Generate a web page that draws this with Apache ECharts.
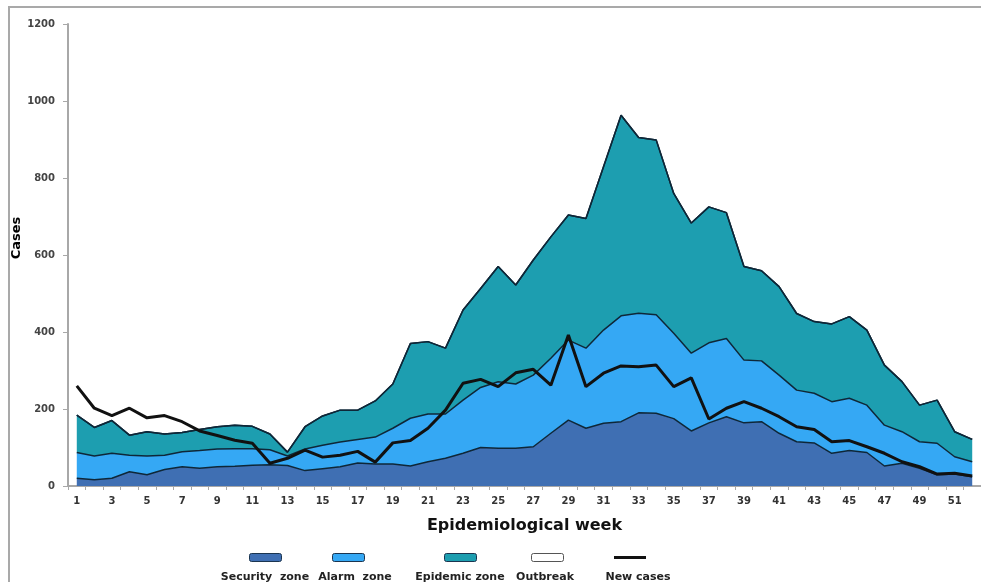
<!DOCTYPE html>
<html>
<head>
<meta charset="utf-8">
<script src="https://cdn.jsdelivr.net/npm/echarts@6/dist/echarts.min.js"></script>
<style>
    html, body { margin: 0; padding: 0; background: #fff; }
    #chart { width: 981px; height: 582px; }
</style>
</head>
<body>
<div id="chart"></div>
<script>
// weeks 1 -> 52
const weeks = [
    1, 2, 3, 4, 5, 6, 7, 8, 9, 10, 11, 12, 13, 14, 15, 16, 17, 18, 19, 20, 21, 22, 23, 24, 25, 26,
    27, 28, 29, 30, 31, 32, 33, 34, 35, 36, 37, 38, 39, 40, 41, 42, 43, 44, 45, 46, 47, 48, 49, 50, 51, 52
]
const securityZone = [
    20, 16, 20, 37, 29, 43, 50, 46, 50, 51, 54, 55, 53, 40, 45, 50, 60, 57, 57, 52, 63, 72, 85, 100, 98, 98,
    102, 137, 171, 150, 163, 167, 190, 189, 175, 143, 164, 180, 164, 167, 137, 115, 112, 85, 92, 87, 52, 59, 46, 29, 31, 24
]
const alarmZone = [
    67, 62, 65, 43, 49, 37, 39, 46, 46, 46, 43, 39, 25, 56, 61, 64, 61, 70, 93, 124, 124, 115, 138, 156, 173, 167,
    186, 195, 208, 208, 242, 275, 259, 256, 222, 202, 208, 203, 163, 158, 151, 134, 129, 134, 136, 123, 106, 82, 69, 82, 45, 39
]
const epidemicZone = [
    97, 74, 85, 52, 63, 55, 50, 55, 58, 61, 58, 41, 10, 58, 76, 83, 76, 94, 115, 194, 188, 171, 234, 257, 299, 257,
    299, 315, 325, 337, 424, 521, 456, 454, 363, 338, 353, 327, 243, 234, 230, 199, 186, 202, 212, 195, 156, 130, 95, 112, 65, 58
]
const outbreak = [
    0, 0, 0, 0, 0, 0, 0, 0, 0, 0, 0, 0, 0, 0, 0, 0, 0, 0, 0, 0, 0, 0, 0, 0, 0, 0,
    0, 0, 0, 0, 0, 0, 0, 0, 0, 0, 0, 0, 0, 0, 0, 0, 0, 0, 0, 0, 0, 0, 0, 0, 0, 0
]
const newCases = [
    260, 202, 183, 202, 177, 183, 167, 143, 131, 119, 111, 59, 72, 93, 75, 80, 90, 62, 112, 118, 150, 197, 267, 277, 258, 294,
    303, 262, 392, 258, 293, 312, 310, 314, 258, 281, 174, 202, 219, 202, 180, 154, 147, 115, 118, 102, 85, 63, 50, 31, 33, 26
]

const seriesNames = ['Security zone', 'Alarm zone', 'Epidemic zone', 'Outbreak', 'New cases']
const legendLabels = ['Security  zone', 'Alarm  zone', 'Epidemic zone', 'Outbreak', 'New cases']
const seriesColors = ['#3f6fb3', '#35a8f4', '#1d9eb0', '#ffffff', '#111111']

const edge = '#0e2738'
const font = 'DejaVu Sans'

const areaSeries = (name, data, color) => ({
    name,
    type: 'line',
    stack: 'zones',
    data,
    symbol: 'none',
    itemStyle: { color },
    lineStyle: { color: edge, width: 1.5 },
    areaStyle: { color, opacity: 1 },
})

// one legend per item so the icon can sit above its label
const legendX = [249, 332, 444, 531, 614]
const legends = seriesNames.map((name, i) => ({
    data: [{
        name,
        icon: i === 4 ? 'rect' : 'roundRect',
        itemStyle: i === 4
            ? { color: seriesColors[i], borderWidth: 0 }
            : { color: seriesColors[i], borderColor: i === 3 ? '#555' : '#1b3550', borderWidth: 1 },
    }],
    left: legendX[i],
    top: i === 4 ? 556 : 553,
    padding: 0,
    itemWidth: 32,
    itemHeight: i === 4 ? 3 : 8,
    formatter: () => '',
    selectedMode: false,
}))

const labelX = [265, 355, 460, 545, 638]

const chart = echarts.init(document.getElementById('chart'))
chart.setOption({
    animation: false,
    backgroundColor: '#fff',
    legend: legends,
    grid: {
        left: 68,
        top: 24,
        width: 915,
        height: 462,
    },
    xAxis: {
        type: 'category',
        data: weeks,
        boundaryGap: true,
        name: 'Epidemiological week',
        nameLocation: 'middle',
        nameGap: 32,
        nameTextStyle: { fontFamily: font, fontWeight: 'bold', fontSize: 16, color: '#111' },
        axisLine: { lineStyle: { color: '#a8a8a8', width: 2 } },
        axisTick: { show: true, interval: 0, length: 4, lineStyle: { color: '#a8a8a8' } },
        axisLabel: {
            interval: 1,
            margin: 10,
            fontFamily: font,
            fontWeight: 'bold',
            fontSize: 10,
            color: '#333',
        },
        splitLine: { show: false },
    },
    yAxis: {
        type: 'value',
        min: 0,
        max: 1200,
        interval: 200,
        axisLine: { show: true, lineStyle: { color: '#a8a8a8', width: 2 } },
        axisTick: { show: true, length: 5, lineStyle: { color: '#a8a8a8' } },
        axisLabel: {
            margin: 13,
            formatter: (v) => String(v),
            fontFamily: font,
            fontWeight: 'bold',
            fontSize: 10,
            color: '#444',
        },
        splitLine: { show: false },
    },
    graphic: [
        // picture frame
        {
            type: 'rect',
            shape: { x: 9, y: 7, width: 1000, height: 640 },
            style: { fill: 'none', stroke: '#a9a9a9', lineWidth: 2 },
            silent: true,
        },
        {
            type: 'text',
            x: 17,
            y: 238,
            rotation: Math.PI / 2,
            style: {
                text: 'Cases',
                fontFamily: font,
                fontWeight: 'bold',
                fontSize: 13,
                fill: '#000',
                align: 'center',
                verticalAlign: 'middle',
            },
        },
        ...legendLabels.map((text, i) => ({
            type: 'text',
            x: labelX[i],
            y: 577,
            style: {
                text,
                fontFamily: font,
                fontWeight: 'bold',
                fontSize: 11,
                fill: '#222',
                align: 'center',
                verticalAlign: 'middle',
            },
        })),
    ],
    series: [
        areaSeries(seriesNames[0], securityZone, seriesColors[0]),
        areaSeries(seriesNames[1], alarmZone, seriesColors[1]),
        areaSeries(seriesNames[2], epidemicZone, seriesColors[2]),
        areaSeries(seriesNames[3], outbreak, seriesColors[3]),
        {
            name: seriesNames[4],
            type: 'line',
            data: newCases,
            symbol: 'none',
            z: 5,
            itemStyle: { color: seriesColors[4] },
            lineStyle: { color: seriesColors[4], width: 3 },
        },
    ],
})
</script>
</body>
</html>
